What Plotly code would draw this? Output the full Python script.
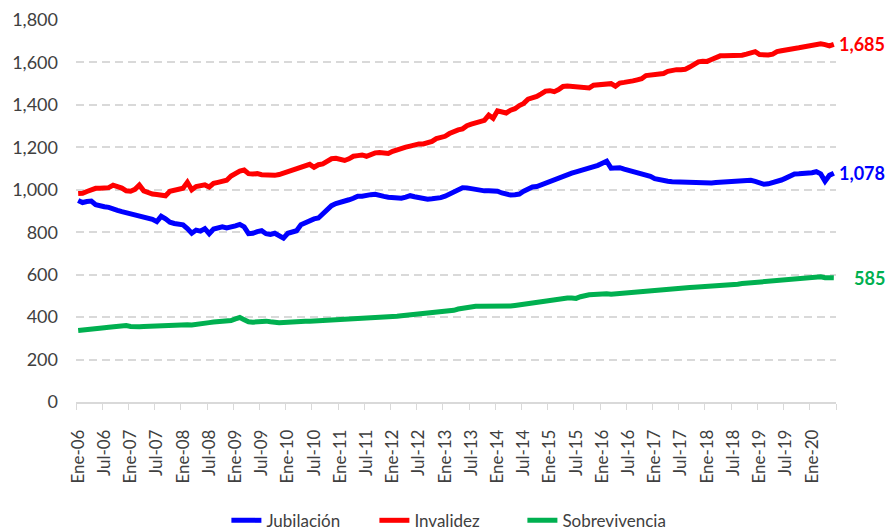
import plotly.graph_objects as go

# ---- data -------------------------------------------------------------
month_abbr = ["Ene", "Feb", "Mar", "Abr", "May", "Jun",
              "Jul", "Ago", "Sep", "Oct", "Nov", "Dic"]
years = list(range(2006, 2021))
last_month_2020 = 6  # series ends in Jun-20

categories = [f"{m}-{str(y)[2:]}" for y in years for i, m in enumerate(month_abbr)
              if not (y == 2020 and i >= last_month_2020)]

jubilacion = [
    950, 940, 945, 947, 930, 923, 920, 917, 907, 903, 897, 892,      # 2006
    888, 883, 877, 873, 867, 861, 850, 875, 863, 847, 841, 840,      # 2007
    835, 817, 795, 810, 805, 817, 793, 815, 823, 825, 820, 823,      # 2008
    830, 837, 825, 793, 795, 803, 807, 793, 790, 795, 785, 772,      # 2009
    795, 800, 807, 835, 845, 853, 863, 867, 885, 900, 925, 935,      # 2010
    940, 943, 953, 960, 970, 970, 971, 977, 979, 971, 969, 965,      # 2011
    963, 957, 960, 965, 972, 967, 963, 960, 956, 958, 960, 963,      # 2012
    970, 980, 990, 1005, 1010, 1009, 1005, 1000, 998, 995, 995, 996,  # 2013
    993, 985, 980, 975, 977, 980, 993, 1003, 1013, 1015, 1023, 1035,  # 2014
    1040, 1048, 1056, 1064, 1070, 1078, 1084, 1090, 1096, 1100, 1108, 1115,  # 2015
    1125, 1135, 1102, 1103, 1104, 1097, 1092, 1085, 1080, 1077, 1074, 1063,  # 2016
    1052, 1046, 1042, 1040, 1038, 1037, 1037, 1037, 1037, 1037, 1036, 1035,  # 2017
    1030, 1032, 1034, 1036, 1037, 1036, 1037, 1038, 1040, 1043, 1045, 1040,  # 2018
    1033, 1026, 1028, 1032, 1038, 1046, 1055, 1066, 1074, 1075, 1077, 1075,  # 2019
    1080, 1085, 1075, 1040, 1068, 1078,                                      # 2020
]

invalidez = [
    982, 983, 992, 1002, 1007, 1007, 1007, 1010, 1022, 1018, 1008, 995,     # 2006
    993, 1002, 1022, 995, 987, 980, 978, 975, 972, 993, 996, 1001,          # 2007
    1007, 1035, 1000, 1015, 1017, 1023, 1013, 1030, 1035, 1040, 1045, 1065,  # 2008
    1080, 1088, 1093, 1076, 1074, 1076, 1071, 1069, 1071, 1068, 1072, 1078,  # 2009
    1084, 1094, 1101, 1106, 1114, 1120, 1106, 1118, 1122, 1131, 1146, 1148,  # 2010
    1141, 1138, 1146, 1158, 1161, 1164, 1158, 1168, 1174, 1176, 1174, 1171,  # 2011
    1181, 1189, 1194, 1201, 1206, 1214, 1216, 1216, 1222, 1228, 1241, 1246,  # 2012
    1252, 1265, 1275, 1282, 1287, 1302, 1309, 1317, 1322, 1327, 1352, 1337,  # 2013
    1372, 1365, 1362, 1375, 1382, 1397, 1407, 1427, 1432, 1440, 1452, 1465,  # 2014
    1467, 1462, 1472, 1487, 1489, 1487, 1485, 1482, 1478, 1480, 1493, 1496,  # 2015
    1498, 1498, 1500, 1488, 1503, 1506, 1508, 1513, 1518, 1523, 1538, 1540,  # 2016
    1540, 1543, 1548, 1558, 1563, 1566, 1566, 1568, 1578, 1592, 1603, 1606,  # 2017
    1605, 1614, 1624, 1631, 1631, 1631, 1631, 1632, 1634, 1639, 1647, 1651,  # 2018
    1637, 1635, 1635, 1639, 1651, 1655, 1657, 1661, 1666, 1669, 1674, 1677,  # 2019
    1679, 1687, 1688, 1684, 1678, 1685,                                      # 2020
]

sobrevivencia = [
    337, 340, 340, 343, 345, 347, 350, 352, 355, 358, 362, 360,  # 2006
    356, 353, 355, 356, 357, 358, 358, 360, 361, 362, 363, 366,  # 2007
    368, 364, 363, 367, 368, 370, 374, 377, 378, 380, 381, 384,  # 2008
    392, 398, 388, 378, 376, 378, 380, 381, 378, 375, 374, 375,  # 2009
    377, 378, 379, 380, 380, 381, 382, 383, 383, 383, 384, 385,  # 2010
    386, 388, 390, 390, 391, 391, 392, 394, 396, 396, 398, 400,  # 2011
    401, 404, 406, 408, 410, 411, 412, 413, 416, 418, 420, 421,  # 2012
    424, 426, 432, 438, 442, 446, 450, 451, 451, 451, 452, 453,  # 2013
    452, 448, 450, 452, 455, 458, 460, 462, 465, 468, 471, 476,  # 2014
    482, 480, 486, 490, 490, 490, 488, 496, 502, 505, 507, 510,  # 2015
    511, 510, 508, 510, 511, 512, 513, 516, 518, 522, 526, 526,  # 2016
    527, 528, 530, 532, 534, 535, 536, 538, 540, 541, 542, 543,  # 2017
    545, 547, 549, 550, 551, 552, 553, 555, 558, 560, 562, 564,  # 2018
    565, 566, 568, 570, 572, 574, 575, 577, 579, 580, 582, 585,  # 2019
    587, 592, 590, 586, 584, 585,                                # 2020
]

series_names = ["Jubilación", "Invalidez", "Sobrevivencia"]
series_values = [jubilacion, invalidez, sobrevivencia]
series_colors = ["#0000FF", "#FF0000", "#00B050"]

y_tickvals = list(range(0, 1801, 200))

# ---- figure -----------------------------------------------------------
FONT = "Lato, 'Open Sans', sans-serif"
TXT = "#404040"

fig = go.Figure()
for name, vals, col in zip(series_names, series_values, series_colors):
    fig.add_trace(go.Scatter(
        x=categories, y=vals, name=name, mode="lines",
        line=dict(color=col, width=5),
    ))

for vals, col in zip(series_values, series_colors):
    fig.add_annotation(
        x=categories[-1], y=vals[-1], text=f"<b>{vals[-1]:,}</b>",
        showarrow=False, xanchor="right", yanchor="middle", xshift=53,
        font=dict(family=FONT, size=18, color=col),
    )

fig.update_layout(
    width=889, height=532,
    margin=dict(l=76, r=53, t=20, b=130, autoexpand=False),
    paper_bgcolor="white", plot_bgcolor="white",
    font=dict(family=FONT, size=18, color=TXT),
    showlegend=True,
    legend=dict(orientation="h", x=0.49, xanchor="center", y=-0.358, yanchor="bottom",
                font=dict(family=FONT, size=17, color=TXT),
                entrywidth=103, entrywidthmode="pixels",
                tracegroupgap=0, bgcolor="rgba(0,0,0,0)"),
)

fig.update_xaxes(
    type="category", range=[-0.5, len(categories) - 0.5],
    tickmode="linear", tick0=0, dtick=6, tickson="boundaries",
    ticks="outside", ticklen=6, tickcolor="#d9d9d9", tickwidth=1,
    tickangle=-90, tickfont=dict(family=FONT, size=17, color=TXT),
    ticklabelstandoff=19,
    showline=True, linecolor="#d9d9d9", linewidth=1.5,
    showgrid=False, zeroline=False, automargin=False,
)

fig.update_yaxes(
    range=[0, 1800], tickvals=y_tickvals, tickformat=",",
    tickfont=dict(family=FONT, size=18, color=TXT),
    showgrid=True, gridcolor="#d9d9d9", gridwidth=1.5, griddash="8px,5px",
    showline=False, zeroline=False, ticks="", ticklabelstandoff=17,
    automargin=False,
)

fig.write_html("out.html", config={"displayModeBar": False},
               post_script="document.body.style.margin='0px';")
